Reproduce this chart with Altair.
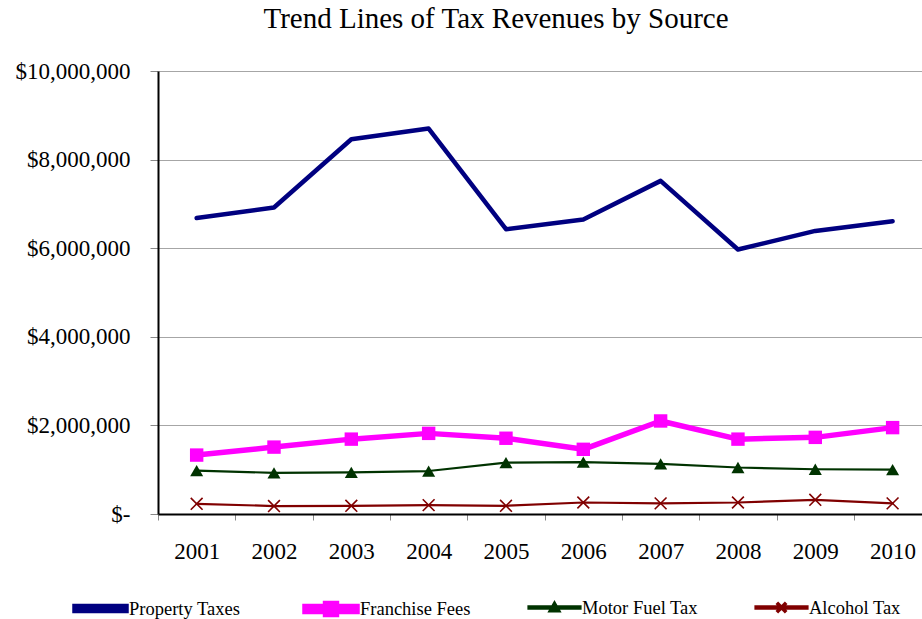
import altair as alt
import pandas as pd

FONT = "Liberation Serif"

years = [2001, 2002, 2003, 2004, 2005, 2006, 2007, 2008, 2009, 2010]
series_names = ["Property Taxes", "Franchise Fees", "Motor Fuel Tax", "Alcohol Tax"]
property_taxes = [6680000, 6920000, 8460000, 8700000, 6430000, 6650000, 7520000, 5970000, 6390000, 6610000]
franchise_fees = [1330000, 1510000, 1690000, 1820000, 1710000, 1460000, 2100000, 1690000, 1730000, 1950000]
motor_fuel_tax = [980000, 930000, 940000, 970000, 1160000, 1170000, 1130000, 1050000, 1010000, 1000000]
alcohol_tax = [230000, 180000, 185000, 200000, 185000, 260000, 240000, 260000, 320000, 240000]
series_colors = ["#000080", "#FF00FF", "#003300", "#800000"]
line_widths = [4.5, 5.5, 2.2, 2.2]

rows = []
for name, vals in zip(series_names, [property_taxes, franchise_fees, motor_fuel_tax, alcohol_tax]):
    for yr, v in zip(years, vals):
        rows.append({"year": yr, "series": name, "value": v})
df = pd.DataFrame(rows)

legend_paths = [
    "M-1,-0.1H1V0.1H-1Z",
    "M-1,-0.1H1V0.1H-1Z M-0.21,-0.21H0.21V0.21H-0.21Z",
    "M-1,-0.04H1V0.04H-1Z M0,-0.2L0.2,0.15H-0.2Z",
    "M-1,-0.04H1V0.04H-1Z M-0.17,-0.13L-0.13,-0.17L0.17,0.13L0.13,0.17Z M0.13,-0.17L0.17,-0.13L-0.13,0.17L-0.17,0.13Z",
]

x_enc = alt.X(
    "year:Q",
    scale=alt.Scale(domain=[2000.5, 2010.38], nice=False, zero=False),
    axis=alt.Axis(
        values=[y - 0.5 for y in years],
        labelExpr="format(datum.value + 0.5, 'd')",
        labelOffset=38.67,
        labelFlush=False,
        title=None,
        grid=False,
        domainColor="black",
        domainWidth=2,
        tickColor="#888888",
        tickSize=6,
        labelFont=FONT,
        labelFontSize=23,
        labelColor="black",
        labelPadding=20,
    ),
)
y_enc = alt.Y(
    "value:Q",
    scale=alt.Scale(domain=[0, 10000000], nice=False),
    axis=alt.Axis(
        values=[0, 2000000, 4000000, 6000000, 8000000, 10000000],
        labelExpr="datum.value == 0 ? '$-' : '$' + format(datum.value, ',')",
        title=None,
        grid=True,
        gridColor="#a6a6a6",
        gridWidth=1,
        domainColor="black",
        domainWidth=2,
        tickColor="#888888",
        tickSize=8,
        labelPadding=20,
        labelFont=FONT,
        labelFontSize=23,
        labelColor="black",
    ),
)
color_scale = alt.Scale(domain=series_names, range=series_colors)

base = alt.Chart(df).encode(x=x_enc, y=y_enc)

leg = alt.Legend(
    title=None,
    orient="none",
    legendX=-86,
    legendY=509,
    direction="horizontal",
    symbolSize=2704,
    symbolStrokeWidth=0,
    symbolOpacity=1,
    labelFont=FONT,
    labelFontSize=18.5,
    labelColor="black",
    labelOffset=0,
    columnPadding=53,
    gridAlign="none",
    labelLimit=300,
    padding=0,
)

legend_layer = base.mark_point(filled=True, opacity=0).encode(
    color=alt.Color("series:N", scale=color_scale, legend=leg),
    shape=alt.Shape("series:N", scale=alt.Scale(domain=series_names, range=legend_paths), legend=leg),
)

lines = base.mark_line(strokeJoin="round", strokeCap="round").encode(
    color=alt.Color("series:N", scale=color_scale, legend=None),
    strokeWidth=alt.StrokeWidth(
        "series:N",
        scale=alt.Scale(type="ordinal", domain=series_names, range=line_widths),
        legend=None,
    ),
    detail="series:N",
)

squares = base.mark_point(shape="square", filled=True, size=180, opacity=1).encode(
    color=alt.Color("series:N", scale=color_scale, legend=None)
).transform_filter(alt.datum.series == "Franchise Fees")

triangles = base.mark_point(shape="triangle-up", filled=True, size=170, opacity=1).encode(
    color=alt.Color("series:N", scale=color_scale, legend=None)
).transform_filter(alt.datum.series == "Motor Fuel Tax")

crosses = base.mark_point(shape="M-1,-1L1,1M-1,1L1,-1", filled=False, size=140, strokeWidth=1.6, opacity=1).encode(
    color=alt.Color("series:N", scale=color_scale, legend=None)
).transform_filter(alt.datum.series == "Alcohol Tax")

chart = (
    alt.layer(legend_layer, lines, squares, triangles, crosses)
    .properties(
        width=764,
        height=443,
        autosize=alt.AutoSizeParams(type="none"),
        padding={"left": 158, "top": 71, "right": 0, "bottom": 105},
        background="white",
        title=alt.TitleParams(
            "Trend Lines of Tax Revenues by Source",
            font=FONT,
            fontSize=29,
            fontWeight="normal",
            color="black",
            anchor="middle",
            dx=-44,
            offset=26,
        ),
    )
    .configure_view(stroke=None)
)

chart.save("out.html", embed_options={"renderer": "svg", "actions": False})
